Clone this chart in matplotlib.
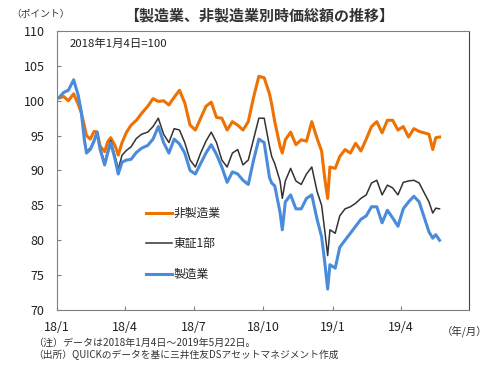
import matplotlib
matplotlib.use("Agg")
import matplotlib.pyplot as plt
import pandas as pd

plt.rcParams['font.family'] = ['Noto Sans CJK JP', 'DejaVu Sans']

# 日付（2018年1月4日～2019年5月22日）
fechas = pd.to_datetime([
    "2018-01-04", "2018-01-10", "2018-01-16", "2018-01-23", "2018-01-29",
    "2018-02-02", "2018-02-06", "2018-02-09", "2018-02-14", "2018-02-19",
    "2018-02-23", "2018-02-27", "2018-03-05", "2018-03-09", "2018-03-13",
    "2018-03-19", "2018-03-23", "2018-03-28", "2018-04-03", "2018-04-09",
    "2018-04-16", "2018-04-23", "2018-05-01", "2018-05-08", "2018-05-15",
    "2018-05-22", "2018-05-29", "2018-06-05", "2018-06-12", "2018-06-19",
    "2018-06-26", "2018-07-03", "2018-07-10", "2018-07-17", "2018-07-24",
    "2018-07-31", "2018-08-07", "2018-08-14", "2018-08-21", "2018-08-28",
    "2018-09-04", "2018-09-11", "2018-09-18", "2018-09-25", "2018-10-02",
    "2018-10-09", "2018-10-12", "2018-10-16", "2018-10-23", "2018-10-26",
    "2018-10-30", "2018-11-06", "2018-11-13", "2018-11-20", "2018-11-27",
    "2018-12-04", "2018-12-11", "2018-12-17", "2018-12-21", "2018-12-25",
    "2018-12-28", "2019-01-04", "2019-01-10", "2019-01-17", "2019-01-24",
    "2019-01-31", "2019-02-07", "2019-02-14", "2019-02-21", "2019-02-28",
    "2019-03-07", "2019-03-14", "2019-03-21", "2019-03-28", "2019-04-04",
    "2019-04-11", "2019-04-18", "2019-04-25", "2019-05-08", "2019-05-13",
    "2019-05-17", "2019-05-22",
])

hiseizo = [
    100.4, 100.6, 100.0, 101.0, 99.5, 98.3, 96.5, 95.0, 94.5, 95.6,
    95.5, 93.5, 92.7, 94.1, 94.7, 93.5, 92.2, 94.0, 95.5, 96.5,
    97.2, 98.2, 99.2, 100.3, 99.9, 100.0, 99.4, 100.5, 101.5, 99.7,
    96.5, 95.8, 97.5, 99.2, 99.8, 97.6, 97.5, 95.8, 97.0, 96.5,
    95.8, 97.0, 100.5, 103.5, 103.3, 101.0, 99.5, 97.0, 93.5, 92.5,
    94.4, 95.5, 93.7, 94.4, 94.2, 97.0, 94.6, 92.8, 89.0, 86.0,
    90.5, 90.3, 92.0, 93.0, 92.5, 93.9, 92.8, 94.5, 96.3, 97.0,
    95.4, 97.2, 97.2, 95.8, 96.3, 94.8, 96.0, 95.6, 95.2, 93.0,
    94.7, 94.8,
]

topix = [
    100.5, 101.2, 101.6, 102.8, 100.9, 98.6, 94.8, 92.8, 93.2, 94.4,
    95.6, 93.3, 91.2, 92.8, 94.3, 92.0, 90.2, 92.2, 92.9, 93.4,
    94.6, 95.2, 95.5, 96.3, 97.5, 95.2, 94.0, 96.0, 95.8, 94.0,
    91.5, 90.5, 92.5, 94.2, 95.5, 94.0, 91.5, 90.5, 92.5, 93.0,
    90.8, 91.5, 94.5, 97.5, 97.5, 93.5, 92.0, 91.0, 88.5, 86.0,
    88.5, 90.3, 88.5, 88.0, 89.5, 90.5, 87.0, 85.0, 81.5, 77.8,
    81.5, 81.0, 83.5, 84.5, 84.8, 85.3, 86.0, 86.5, 88.2, 88.6,
    86.5, 87.9, 87.5, 86.5, 88.3, 88.5, 88.6, 88.2, 85.5, 83.9,
    84.6, 84.5,
]

seizo = [
    100.5, 101.2, 101.5, 103.0, 100.8, 98.5, 94.5, 92.5, 93.0, 94.2,
    95.5, 93.0, 90.8, 92.5, 94.0, 91.5, 89.5, 91.2, 91.5, 91.6,
    92.6, 93.2, 93.6, 94.5, 96.3, 94.0, 92.5, 94.5, 93.8, 92.5,
    90.0, 89.5, 91.0, 92.5, 93.7, 92.3, 90.5, 88.3, 89.8, 89.5,
    88.6, 88.0, 91.5, 94.5, 94.0, 89.0, 88.2, 87.8, 84.0, 81.5,
    85.5, 86.5, 84.5, 84.5, 86.0, 86.5, 83.0, 80.5, 77.0, 73.0,
    76.5, 76.0, 79.0, 80.0, 81.0, 82.0, 83.0, 83.5, 84.8, 84.8,
    82.5, 84.3, 83.2, 82.0, 84.5, 85.5, 86.3, 85.5, 81.2, 80.3,
    80.8, 80.0,
]

COLOR_NARANJA = "#EE7203"
COLOR_NEGRO = "#333333"
COLOR_AZUL = "#4A8CDB"
COLOR_GRIS = "#808080"

fig = plt.figure(figsize=(5.01, 3.68), dpi=100)
ax = fig.add_axes([0.1138, 0.1576, 0.8224, 0.7582])

ax.plot(fechas, hiseizo, color=COLOR_NARANJA, lw=2.2, label='非製造業')
ax.plot(fechas, topix, color=COLOR_NEGRO, lw=1.1, label='東証1部')
ax.plot(fechas, seizo, color=COLOR_AZUL, lw=2.2, label='製造業')

ax.set_xlim(pd.Timestamp("2018-01-01"), pd.Timestamp("2019-06-30"))
ax.set_ylim(70, 110)
ax.set_yticks([70, 75, 80, 85, 90, 95, 100, 105, 110])
ticks_x = pd.to_datetime(["2018-01-01", "2018-04-01", "2018-07-01",
                          "2018-10-01", "2019-01-01", "2019-04-01"])
ax.set_xticks(ticks_x)
ax.set_xticklabels(['18/1', '18/4', '18/7', '18/10', '19/1', '19/4'])
ax.tick_params(direction='in', length=3, color=COLOR_GRIS, labelsize=9,
               labelcolor='#222222')
ax.tick_params(axis='y', pad=9)
ax.tick_params(axis='x', pad=8)
for lado in ['top', 'right', 'left', 'bottom']:
    ax.spines[lado].set_color(COLOR_GRIS)
ax.spines['right'].set_color('#444444')

ax.text(0.03, 0.955, '2018年1月4日=100', transform=ax.transAxes,
        fontsize=8.2, color='#222222', va='center')

leg = ax.legend(loc='center left', bbox_to_anchor=(0.215, 0.237), frameon=False,
                fontsize=8.5, handlelength=2.2, labelspacing=1.5,
                handletextpad=0.2, borderaxespad=0, borderpad=0)
for txt in leg.get_texts():
    txt.set_color('#222222')

fig.text(0.518, 0.957, '【製造業、非製造業別時価総額の推移】', ha='center', va='center',
         fontsize=10.8, fontweight='bold', color='#333333')
fig.text(0.022, 0.962, '（ポイント）', ha='left', va='center', fontsize=7,
         color='#333333')
fig.text(0.972, 0.101, '（年/月）', ha='right', va='center', fontsize=7.5,
         color='#333333')
fig.text(0.066, 0.068, '（注）データは2018年1月4日～2019年5月22日。', ha='left',
         va='center', fontsize=7.2, color='#333333')
fig.text(0.066, 0.035, '（出所）QUICKのデータを基に三井住友DSアセットマネジメント作成',
         ha='left', va='center', fontsize=7, color='#333333')

fig.savefig('out.png', dpi=100)
